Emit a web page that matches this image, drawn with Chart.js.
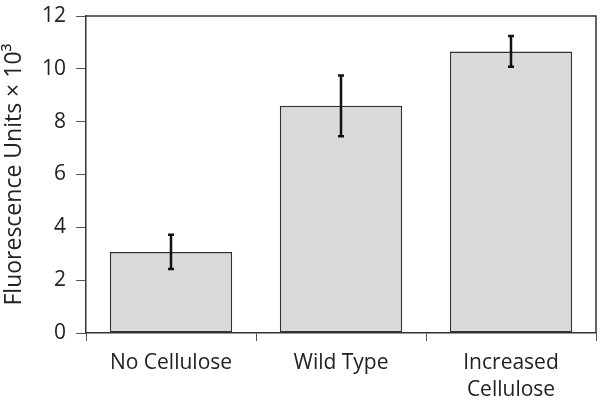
<!DOCTYPE html>
<html>
<head>
<meta charset="utf-8">
<script src="https://cdn.jsdelivr.net/npm/chart.js@4"></script>
<style>
  html, body { margin: 0; padding: 0; background: #fff; }
  #wrap { width: 600px; height: 401px; }
</style>
</head>
<body>
<div id="wrap"><canvas id="fluorChart"></canvas></div>
<script>
const categories = [["No Cellulose"], ["Wild Type"], ["Increased", "Cellulose"]];
const meanValues = [3.07, 8.6, 10.66];
const errorValues = [0.65, 1.15, 0.58];
const yTicks = [0, 2, 4, 6, 8, 10, 12];

const FONT = "'Open Sans', sans-serif";
const INK = "#222";

/* error bars drawn through the y scale */
const errorBarPlugin = {
  id: "errorBars",
  afterDatasetsDraw(chart) {
    const { ctx, scales } = chart;
    const meta = chart.getDatasetMeta(0);
    ctx.save();
    ctx.strokeStyle = "#111";
    ctx.lineWidth = 2.5;
    meta.data.forEach((bar, i) => {
      const x = bar.x;
      const top = scales.y.getPixelForValue(meanValues[i] + errorValues[i]);
      const bot = scales.y.getPixelForValue(meanValues[i] - errorValues[i]);
      ctx.beginPath();
      ctx.moveTo(x, top);
      ctx.lineTo(x, bot);
      ctx.moveTo(x - 3, top);
      ctx.lineTo(x + 3, top);
      ctx.moveTo(x - 3, bot);
      ctx.lineTo(x + 3, bot);
      ctx.stroke();
    });
    ctx.restore();
  }
};

/* closes the plot box (top + right sides) */
const frameBox = {
  id: "frameBox",
  afterDraw(chart) {
    const { ctx, chartArea: a } = chart;
    ctx.save();
    ctx.strokeStyle = "#333";
    ctx.lineWidth = 1.5;
    ctx.beginPath();
    ctx.moveTo(a.left, a.top);
    ctx.lineTo(a.right, a.top);
    ctx.lineTo(a.right, a.bottom);
    ctx.stroke();
    ctx.restore();
  }
};

new Chart(document.getElementById("fluorChart"), {
  type: "bar",
  data: {
    labels: categories,
    datasets: [{
      data: meanValues,
      backgroundColor: "#d9d9d9",
      borderColor: "#333",
      borderWidth: 1.5,
      borderSkipped: false,
      categoryPercentage: 0.8,
      barPercentage: 0.9
    }]
  },
  options: {
    responsive: true,
    maintainAspectRatio: false,
    animation: false,
    layout: { padding: { top: 16, right: 4, left: 0, bottom: 0 } },
    plugins: {
      legend: { display: false },
      tooltip: { enabled: false }
    },
    scales: {
      x: {
        offset: true,
        afterFit(scale) {
          scale.height = 68;
          scale.paddingLeft = 0;
          scale.paddingRight = 0;
        },
        border: { color: "#333", width: 1.5 },
        grid: {
          offset: true,
          drawOnChartArea: false,
          drawTicks: true,
          tickLength: 8,
          color: "#555"
        },
        ticks: {
          color: INK,
          padding: 8,
          maxRotation: 0,
          font: { family: FONT, size: 21, lineHeight: 1.3 }
        }
      },
      y: {
        min: 0,
        max: 12,
        afterBuildTicks(scale) {
          scale.ticks = yTicks.map(v => ({ value: v }));
        },
        afterFit(scale) {
          scale.width = 86;
          scale.paddingTop = 0;
          scale.paddingBottom = 0;
        },
        border: { color: "#333", width: 1.5 },
        grid: {
          drawOnChartArea: false,
          drawTicks: true,
          tickLength: 10,
          color: "#555"
        },
        ticks: {
          color: INK,
          padding: 10,
          font: { family: FONT, size: 21 }
        },
        title: {
          display: true,
          text: "Fluorescence Units × 10³",
          color: INK,
          padding: { top: 1, bottom: 2 },
          font: { family: FONT, size: 23 }
        }
      }
    }
  },
  plugins: [errorBarPlugin, frameBox]
});
</script>
</body>
</html>
